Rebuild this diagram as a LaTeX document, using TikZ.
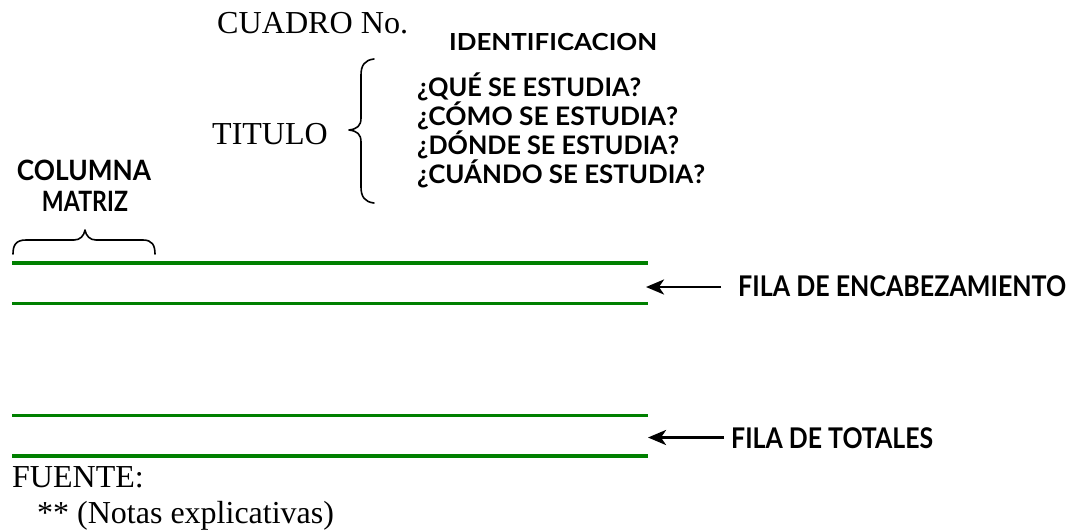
\documentclass[tikz,border=0pt]{standalone}
\usepackage{fontspec}
\usepackage{graphicx}
\setmainfont{Liberation Serif}
\newfontfamily\geo{Lato Bold}
\usetikzlibrary{arrows.meta}
\newcommand{\fitw}[2]{\resizebox{#1}{\height}{#2}}
\tikzset{
  serif/.style={inner sep=0pt, anchor=base west, font=\fontsize{32}{36}\selectfont},
  sans/.style={inner sep=0pt, anchor=base west},
  gthick/.style={draw=rulegreen, line width=4.5pt},
  gthin/.style={draw=rulegreen, line width=2.6pt},
  pointer/.style={draw=black, line width=2.8pt, -{Stealth[length=18pt,width=15pt,inset=5pt]}},
  curly/.style={draw=black, line width=1.6pt, line cap=round, line join=round},
}
\definecolor{rulegreen}{RGB}{0,128,0}
\begin{document}
\begin{tikzpicture}[x=1pt,y=-1pt]
\useasboundingbox (0,0) rectangle (1076,531);
% serif texts
\node[serif] (cuadro) at (217,33) {\fitw{191pt}{CUADRO No.}};
\node[serif] (titulo) at (212,144) {TITULO};
\node[serif] (fuente) at (12,487) {FUENTE:};
\node[serif] (notas) at (37,523) {** (Notas explicativas)};
% sans texts
\node[sans] (ident) at (449,50) {\fitw{208pt}{\fontsize{23.5}{26}\geo IDENTIFICACION}};
\node[sans] (q1) at (417,96) {\fitw{224pt}{\fontsize{25.5}{28}\geo ¿QUÉ SE ESTUDIA?}};
\node[sans] (q2) at (417,125) {\fitw{261pt}{\fontsize{25.5}{28}\geo ¿CÓMO SE ESTUDIA?}};
\node[sans] (q3) at (417,154) {\fitw{262pt}{\fontsize{25.5}{28}\geo ¿DÓNDE SE ESTUDIA?}};
\node[sans] (q4) at (417,183) {\fitw{288pt}{\fontsize{25.5}{28}\geo ¿CUÁNDO SE ESTUDIA?}};
\node[sans, anchor=base] (col) at (84,180) {\fitw{134pt}{\fontsize{28}{30}\geo COLUMNA}};
\node[sans, anchor=base] (mat) at (85,211) {\fitw{86pt}{\fontsize{28}{30}\geo MATRIZ}};
\node[sans] (fenc) at (738,296) {\fitw{328pt}{\fontsize{28.5}{30}\geo FILA DE ENCABEZAMIENTO}};
\node[sans] (ftot) at (731,448) {\fitw{202pt}{\fontsize{28.5}{30}\geo FILA DE TOTALES}};
% green rules
\coordinate (r1a) at (12,263); \coordinate (r1b) at (648,263);
\coordinate (r2a) at (12,303.5); \coordinate (r2b) at (648,303.5);
\coordinate (r3a) at (12,415.5); \coordinate (r3b) at (648,415.5);
\coordinate (r4a) at (12,456); \coordinate (r4b) at (648,456);
\draw[gthick] (r1a) -- (r1b);
\draw[gthin] (r2a) -- (r2b);
\draw[gthin] (r3a) -- (r3b);
\draw[gthick] (r4a) -- (r4b);
% arrows
\coordinate (a1s) at (721,287); \coordinate (a1e) at (646,287);
\coordinate (a2s) at (724,437.5); \coordinate (a2e) at (648,437.5);
\draw[pointer] (a1s) -- (a1e);
\draw[pointer] (a2s) -- (a2e);
% vertical brace for TITULO
\draw[curly] (374,59) .. controls (365,60) and (361,65) .. (361,75)
  -- (361,118) .. controls (361,126) and (357,129) .. (349,130)
  .. controls (357,131) and (361,134) .. (361,142)
  -- (361,187) .. controls (361,197) and (365,202) .. (374,203);
% horizontal brace for COLUMNA MATRIZ
\draw[curly] (13,254) .. controls (13,245) and (16,240) .. (26,240)
  -- (74,240) .. controls (80,240) and (84,236) .. (85,230)
  .. controls (86,236) and (90,240) .. (96,240)
  -- (143,240) .. controls (152,240) and (155,245) .. (155,254);
\end{tikzpicture}
\end{document}
